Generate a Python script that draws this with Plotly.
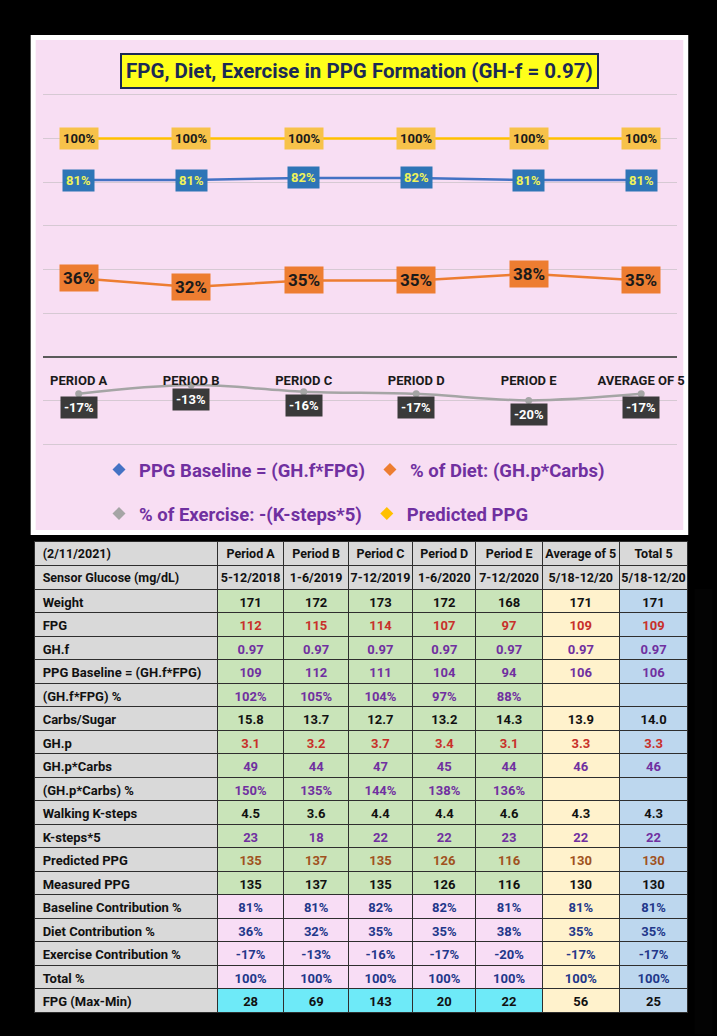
import plotly.graph_objects as go

FONT = "Roboto, Liberation Sans, Arial, sans-serif"

# ---------------- chart data ----------------
categories = ["Period A", "Period B", "Period C", "Period D", "Period E", "Average of 5"]
baseline_pct = [81, 81, 82, 82, 81, 81]
diet_pct = [36, 32, 35, 35, 38, 35]
exercise_pct = [-17, -13, -16, -17, -20, -17]
predicted_pct = [100, 100, 100, 100, 100, 100]
series_names = ["PPG Baseline = (GH.f*FPG)", "% of Diet: (GH.p*Carbs)",
                "% of Exercise: -(K-steps*5)", "Predicted PPG"]
chart_title = "FPG, Diet, Exercise in PPG Formation (GH-f = 0.97)"

# ---------------- table data ----------------
table_corner = ["(2/11/2021)", "Sensor Glucose (mg/dL)"]
table_cols = ["Period A", "Period B", "Period C", "Period D", "Period E", "Average of 5", "Total 5"]
date_ranges = ["5-12/2018", "1-6/2019", "7-12/2019", "1-6/2020", "7-12/2020", "5/18-12/20", "5/18-12/20"]
row_labels = ["Weight", "FPG", "GH.f", "PPG Baseline = (GH.f*FPG)", "(GH.f*FPG) %", "Carbs/Sugar",
              "GH.p", "GH.p*Carbs", "(GH.p*Carbs) %", "Walking K-steps", "K-steps*5", "Predicted PPG",
              "Measured PPG", "Baseline Contribution %", "Diet Contribution %",
              "Exercise Contribution %", "Total %", "FPG (Max-Min)"]
weight = ["171", "172", "173", "172", "168", "171", "171"]
fpg = ["112", "115", "114", "107", "97", "109", "109"]
gh_f = ["0.97", "0.97", "0.97", "0.97", "0.97", "0.97", "0.97"]
ppg_baseline = ["109", "112", "111", "104", "94", "106", "106"]
ghf_fpg_pct = ["102%", "105%", "104%", "97%", "88%", "", ""]
carbs_sugar = ["15.8", "13.7", "12.7", "13.2", "14.3", "13.9", "14.0"]
gh_p = ["3.1", "3.2", "3.7", "3.4", "3.1", "3.3", "3.3"]
ghp_carbs = ["49", "44", "47", "45", "44", "46", "46"]
ghp_carbs_pct = ["150%", "135%", "144%", "138%", "136%", "", ""]
walking_ksteps = ["4.5", "3.6", "4.4", "4.4", "4.6", "4.3", "4.3"]
ksteps_x5 = ["23", "18", "22", "22", "23", "22", "22"]
predicted_ppg = ["135", "137", "135", "126", "116", "130", "130"]
measured_ppg = ["135", "137", "135", "126", "116", "130", "130"]
baseline_contrib = ["81%", "81%", "82%", "82%", "81%", "81%", "81%"]
diet_contrib = ["36%", "32%", "35%", "35%", "38%", "35%", "35%"]
exercise_contrib = ["-17%", "-13%", "-16%", "-17%", "-20%", "-17%", "-17%"]
total_pct = ["100%", "100%", "100%", "100%", "100%", "100%", "100%"]
fpg_max_min = ["28", "69", "143", "20", "22", "56", "25"]

table_rows = [weight, fpg, gh_f, ppg_baseline, ghf_fpg_pct, carbs_sugar, gh_p, ghp_carbs,
              ghp_carbs_pct, walking_ksteps, ksteps_x5, predicted_ppg, measured_ppg,
              baseline_contrib, diet_contrib, exercise_contrib, total_pct, fpg_max_min]

# ---------------- styles ----------------
W, H = 717, 1036
PINK = "#F8DEF3"
line_colors = ["#4472C4", "#ED7D31", "#A5A5A5", "#FFC000"]
label_bg = ["#2E75B6", "#ED7D31", "#3A3A3A", "#F7C24A"]
label_fg = ["#EEF25A", "#1A1A1A", "#FFFFFF", "#1A1A1A"]
label_size = [13, 17, 13, 13]
label_shift = [0, 0, -14, 0]
legend_of = ["legend", "legend", "legend2", "legend2"]

YMIN, YMAX = -41, 121
top_px, bot_px = 92.8, 446.2
left_px, right_px = 43, 684


def py(px):
    return 1 - px / H


def nb(s):
    # keep table texts on a single line
    return s.replace(" ", "\u00a0")


fig = go.Figure()

series = [baseline_pct, diet_pct, exercise_pct, predicted_pct]
for i, vals in enumerate(series):
    fig.add_trace(go.Scatter(
        x=categories, y=vals, mode="lines+markers",
        line=dict(color=line_colors[i], width=2.5,
                  shape="spline" if i == 2 else "linear"),
        marker=dict(color=line_colors[i], size=7),
        showlegend=False, hoverinfo="skip"))

# legend entries (marker-only swatches like the original)
for i, name in enumerate(series_names):
    fig.add_trace(go.Scatter(
        x=[None], y=[None], mode="markers", name=name, legend=legend_of[i],
        marker=dict(symbol="diamond", size=10, color=line_colors[i])))

# data labels
for i, vals in enumerate(series):
    for c, v in zip(categories, vals):
        fig.add_annotation(
            x=c, y=v, xref="x", yref="y", text=f"{v}%", showarrow=False,
            yshift=label_shift[i], bgcolor=label_bg[i], borderpad=3,
            font=dict(family=FONT, size=label_size[i], color=label_fg[i], weight="bold"))

# title box
fig.add_annotation(
    x=0.506, y=py(71), xref="paper", yref="paper", xanchor="center", yanchor="middle",
    text=chart_title, showarrow=False,
    bgcolor="#FFFF1A", bordercolor="#1B2A55", borderwidth=2, borderpad=4,
    font=dict(family=FONT, size=20.5, color="#1B2A55", weight="bold"))

# table
header_vals = [[nb(t) for t in table_corner]] + [[nb(c), nb(d)] for c, d in zip(table_cols, date_ranges)]
cell_vals = [[nb(t) for t in row_labels]] + [[nb(row[j]) for row in table_rows] for j in range(len(table_cols))]

GRAY, GREEN, YELLOW, BLUE, LPINK, CYAN = "#D9D9D9", "#C9E4B9", "#FFF2CC", "#BDD7EE", "#F8DDF5", "#6EEAF8"
period_fill = [GREEN] * 13 + [LPINK] * 4 + [CYAN]
fills = [[GRAY] * 18] + [period_fill] * 5 + [[YELLOW] * 18, [BLUE] * 18]

RED, PURPLE, BROWN, NAVY, BLACK = "#C8302A", "#7030A0", "#A0521E", "#22378A", "#111111"
row_font = [BLACK, RED, PURPLE, PURPLE, PURPLE, BLACK, RED, PURPLE, PURPLE, BLACK, PURPLE,
            BROWN, BLACK, NAVY, NAVY, NAVY, NAVY, BLACK]
font_colors = [[BLACK] * 18] + [row_font] * 7

fig.add_trace(go.Table(
    domain=dict(x=[35 / W, 695 / W], y=[py(1034), py(541)]),
    columnwidth=[184.5, 67.5, 65, 65, 64, 67, 78, 69],
    header=dict(values=header_vals, fill_color=GRAY, height=24,
                align=["left"] + ["center"] * 7,
                line=dict(color="#2E2E2E", width=1),
                font=dict(family=FONT, size=12.5, color=BLACK, weight="bold")),
    cells=dict(values=cell_vals, fill_color=fills, height=23.5,
               align=["left"] + ["center"] * 7,
               line=dict(color="#2E2E2E", width=1),
               font=dict(family=FONT, size=13, color=font_colors, weight="bold"))))

# chart panel background
fig.add_shape(type="rect", xref="paper", yref="paper",
              x0=33.5 / W, x1=692.5 / W, y0=py(532.5), y1=py(37.5),
              fillcolor=PINK, line=dict(color="#FFFFFF", width=5), layer="below")

zero_frac = py(top_px + (YMAX - 0) * (bot_px - top_px) / (YMAX - YMIN))

legend_common = dict(orientation="h", xanchor="left", yanchor="middle",
                     bgcolor="rgba(0,0,0,0)", itemwidth=30,
                     font=dict(family=FONT, size=18.5, color="#7030A0", weight="bold"))

fig.update_layout(
    width=W, height=H, margin=dict(l=0, r=0, t=0, b=0),
    paper_bgcolor="#000000", plot_bgcolor="rgba(0,0,0,0)",
    font=dict(family=FONT),
    xaxis=dict(domain=[left_px / W, right_px / W], anchor="free", position=zero_frac,
               type="category", showgrid=False, zeroline=False, showline=False,
               tickvals=categories, ticktext=[c.upper() for c in categories],
               ticks="", ticklabelstandoff=14,
               tickfont=dict(family=FONT, size=13, color="#1A1A1A", weight="bold")),
    yaxis=dict(domain=[py(bot_px), py(top_px)], range=[YMIN, YMAX], dtick=20, tick0=0,
               showticklabels=False, showgrid=True, gridcolor="#D6C9D3", gridwidth=1,
               zeroline=True, zerolinecolor="#5A5A5A", zerolinewidth=2),
    legend=dict(x=100 / W, y=py(470), **legend_common),
    legend2=dict(x=100 / W, y=py(514), **legend_common),
)

fig.write_html("out.html")
